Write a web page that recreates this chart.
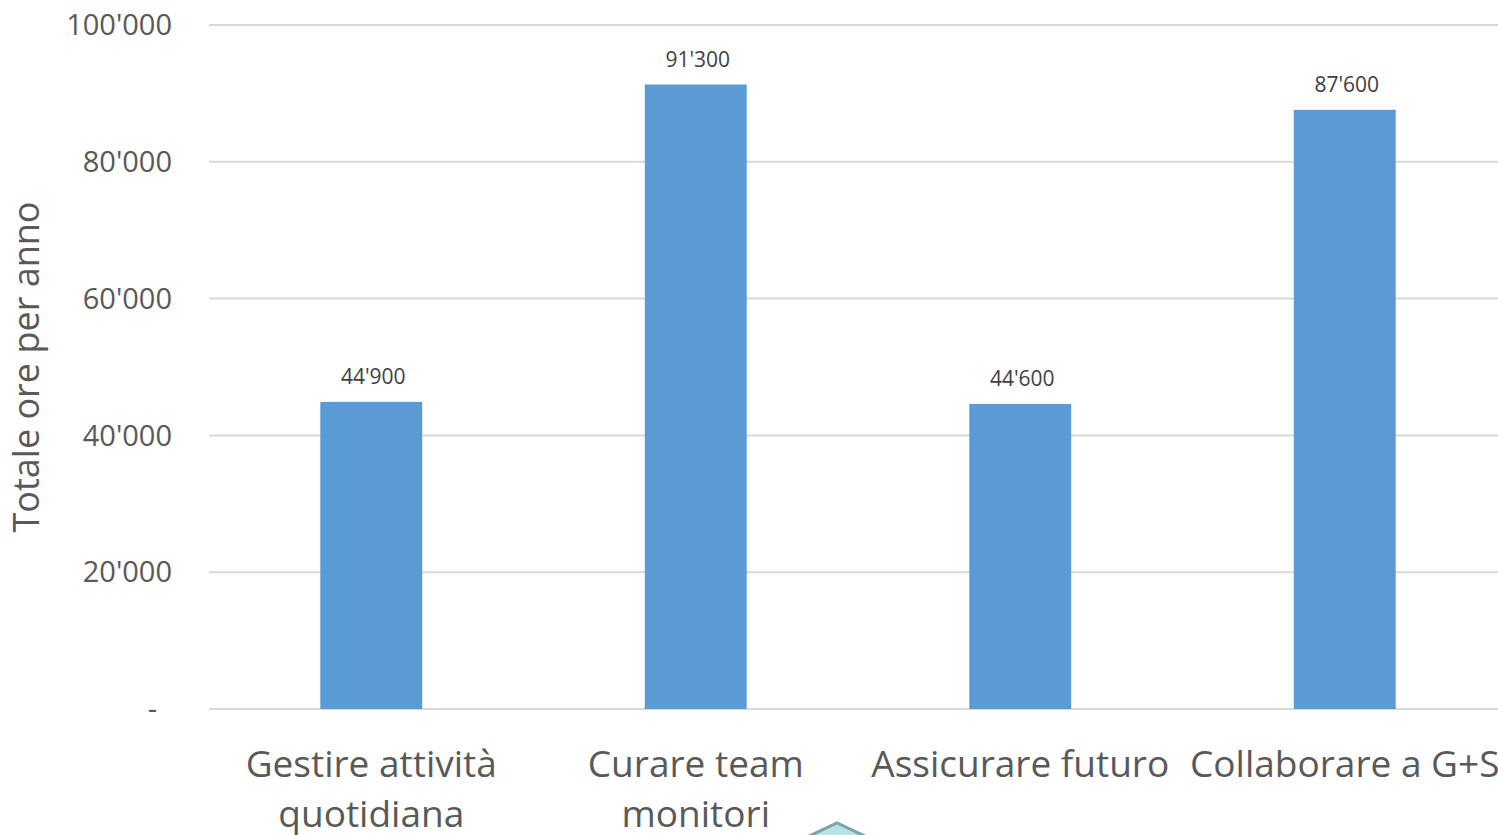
<!DOCTYPE html>
<html>
<head>
<meta charset="utf-8">
<script src="https://cdn.jsdelivr.net/npm/d3@7"></script>
<style>
  body { margin: 0; background: #fff; }
  text { font-family: "Open Sans", "Noto Sans", sans-serif; fill: #595959; }
</style>
</head>
<body>
<div id="chart"></div>
<script>
const categories = [["Gestire attività", "quotidiana"], ["Curare team", "monitori"], ["Assicurare futuro"], ["Collaborare a G+S"]];
const values = [44900, 91300, 44600, 87600];
const yTicks = [0, 20000, 40000, 60000, 80000, 100000];

const width = 1498, height = 835;
const margin = { top: 25, right: -9, bottom: 126, left: 209 };

const svg = d3
  .select("#chart")
  .append("svg")
  .attr("width", width)
  .attr("height", height);

const x = d3
  .scaleBand()
  .domain(d3.range(categories.length))
  .range([margin.left, width - margin.right])
  .paddingInner(0.686)
  .paddingOuter(0.343);

const y = d3
  .scaleLinear()
  .domain([0, 100000])
  .range([height - margin.bottom, margin.top]);

const fmt = (v) => (v === 0 ? "-" : d3.format(",")(v).replace(/,/g, "'"));

// gridlines
svg
  .append("g")
  .selectAll("line")
  .data(yTicks)
  .enter()
  .append("line")
  .attr("x1", margin.left)
  .attr("x2", width)
  .attr("y1", (d) => y(d))
  .attr("y2", (d) => y(d))
  .attr("stroke", "#d9d9d9")
  .attr("stroke-width", 2);

// y tick labels
svg
  .append("g")
  .selectAll("text")
  .data(yTicks)
  .enter()
  .append("text")
  .attr("x", (d) => (d === 0 ? 157 : 172))
  .attr("y", (d) => y(d))
  .attr("dy", "0.35em")
  .attr("text-anchor", "end")
  .style("font-size", "29px")
  .text(fmt);

// bars
svg
  .append("g")
  .selectAll("rect")
  .data(values)
  .enter()
  .append("rect")
  .attr("x", (d, i) => x(i))
  .attr("y", (d) => y(d))
  .attr("width", x.bandwidth())
  .attr("height", (d) => y(0) - y(d))
  .attr("fill", "#5b9bd5");

// data labels
svg
  .append("g")
  .selectAll("text")
  .data(values)
  .enter()
  .append("text")
  .attr("x", (d, i) => x(i) + x.bandwidth() / 2 + 2)
  .attr("y", (d) => y(d) - 18)
  .attr("text-anchor", "middle")
  .style("font-size", "21px")
  .style("fill", "#404040")
  .text(fmt);

// category labels
const cat = svg
  .append("g")
  .selectAll("text")
  .data(categories)
  .enter()
  .append("text")
  .attr("text-anchor", "middle")
  .style("font-size", "37px");

cat
  .selectAll("tspan")
  .data((d, i) => d.map((line) => ({ line, i })))
  .enter()
  .append("tspan")
  .attr("x", (d) => x(d.i) + x.bandwidth() / 2)
  .attr("y", (d, j) => 777 + j * 50)
  .text((d) => d.line);

// y-axis title
svg
  .append("text")
  .attr("transform", "translate(39,367) rotate(-90)")
  .attr("text-anchor", "middle")
  .style("font-size", "36px")
  .text("Totale ore per anno");

// clipped shape at the bottom edge
svg
  .append("path")
  .attr("d", "M805,838 L837,823 L869,838 Z")
  .attr("fill", "#b7e3e6")
  .attr("stroke", "#7fa3a5")
  .attr("stroke-width", 3);
</script>
</body>
</html>
